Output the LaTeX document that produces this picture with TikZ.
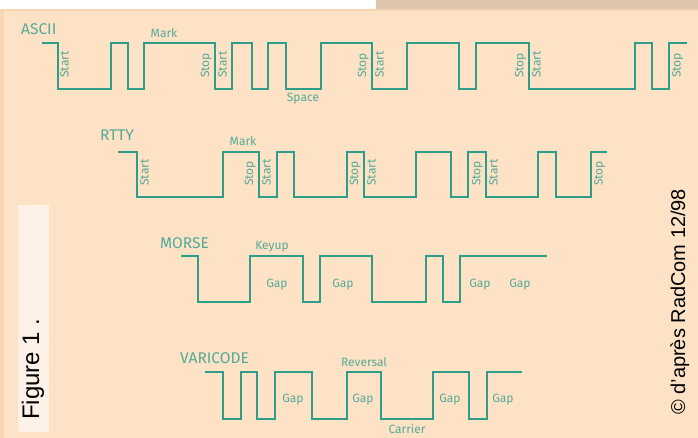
\documentclass[tikz,border=0pt]{standalone}
\usepackage{fontspec}
\setmainfont{Liberation Sans}
\newfontfamily\wavefont{Fira Sans}
\definecolor{peach}{HTML}{FDE2C5}
\definecolor{peachEdge}{HTML}{F9D6B2}
\definecolor{tanBand}{HTML}{DEC5AE}
\definecolor{figBox}{HTML}{FEF1E7}
\definecolor{waveLine}{HTML}{2E9E89}
\definecolor{waveText}{HTML}{55AA98}

\begin{document}
\begin{tikzpicture}[x=1pt, y=-1pt,
    % signal trace
    wave/.style={line width=1.8pt, waveLine, line join=miter},
    % titles of the codes
    title/.style={anchor=base west, inner sep=0pt, text=waveText,
        font=\wavefont\fontsize{15.5}{15.5}\selectfont},
    % small labels
    lbl/.style={anchor=base, inner sep=2pt, text=waveText,
        font=\wavefont\fontsize{12}{12}\selectfont},
    lblL/.style={lbl, rotate=90, anchor=south west},
    lblR/.style={lbl, rotate=90, anchor=north west}
]

    % ================== background ==================
    \fill[white] (0,0) rectangle (698,438);
    \fill[peach] (0,9) rectangle (698,438);
    \fill[tanBand] (376,0) rectangle (698,9);
    \fill[peachEdge] (0,9) rectangle (698,11);
    \fill[peachEdge] (0,9) rectangle (4,438);

    % ================== ASCII ==================
    \node[title] (ascii) at (21,35) {ASCII};
    \draw[wave] (42,43) -| (58,89) -| (111,43) -| (128,89) -| (144,43)
        -| (215,89) -| (232,43) -| (252,89) -| (268,43) -| (286,89)
        -| (321,43) -| (372,89) -| (407,43) -| (459,89) -| (476,43)
        -| (529,89) -| (635,43) -| (652,89) -| (669,43) -- (687,43);
    \node[lblR] (a_start1) at (58,80) {Start};
    \node[lblL] (a_stop1) at (214,80) {Stop};
    \node[lblR] (a_start2) at (216,80) {Start};
    \node[lblL] (a_stop2) at (371,80) {Stop};
    \node[lblR] (a_start3) at (373,80) {Start};
    \node[lblL] (a_stop3) at (528,80) {Stop};
    \node[lblR] (a_start4) at (530,80) {Start};
    \node[lblR] (a_stop4) at (670,80) {Stop};
    \node[lbl] (a_mark) at (164,38) {Mark};
    \node[lbl] (a_space) at (303,102) {Space};

    % ================== RTTY ==================
    \node[title] (rtty) at (100,141) {RTTY};
    \draw[wave] (118,152) -| (137,197) -| (223,152) -| (259,197) -| (277,152)
        -| (294,197) -| (347,152) -| (364,197) -| (416,152) -| (451,197)
        -| (468,152) -| (486,197) -| (538,152) -| (556,197) -| (591,152)
        -- (607,152);
    \node[lblR] (r_start1) at (138,188) {Start};
    \node[lblL] (r_stop1) at (258,188) {Stop};
    \node[lblR] (r_start2) at (260,188) {Start};
    \node[lblL] (r_stop2) at (363,188) {Stop};
    \node[lblR] (r_start3) at (365,188) {Start};
    \node[lblL] (r_stop3) at (485,188) {Stop};
    \node[lblR] (r_start4) at (487,188) {Start};
    \node[lblR] (r_stop4) at (592,188) {Stop};
    \node[lbl] (r_mark) at (243,146) {Mark};

    % ================== MORSE ==================
    \node[title] (morse) at (160,248) {MORSE};
    \draw[wave] (181,256) -| (198,302) -| (250,256) -| (303,302) -| (320,256)
        -| (372,302) -| (426,256) -| (443,302) -| (460,256) -- (547,256);
    \node[lbl] (m_keyup) at (272,250) {Keyup};
    \node[lbl] (m_gap1) at (277,287) {Gap};
    \node[lbl] (m_gap2) at (343,287) {Gap};
    \node[lbl] (m_gap3) at (480,287) {Gap};
    \node[lbl] (m_gap4) at (520,287) {Gap};

    % ================== VARICODE ==================
    \node[title] (varicode) at (180,363) {VARICODE};
    \draw[wave] (205,372) -| (223,419) -| (241,372) -| (257,419) -| (275,372)
        -| (312,419) -| (347,372) -| (381,419) -| (433,372) -| (469,419)
        -| (487,372) -- (522,372);
    \node[lbl] (v_reversal) at (364,366) {Reversal};
    \node[lbl] (v_gap1) at (293,402) {Gap};
    \node[lbl] (v_gap2) at (363,402) {Gap};
    \node[lbl] (v_gap3) at (450,402) {Gap};
    \node[lbl] (v_gap4) at (503,402) {Gap};
    \node[lbl] (v_carrier) at (407,433) {Carrier};

    % ================== side texts ==================
    \fill[figBox] (18,205) rectangle (49,432);
    \node[rotate=90, anchor=base west, inner sep=0pt,
        font=\fontsize{24}{24}\selectfont] (fig_label) at (39,420) {Figure 1 .};
    \node[rotate=90, anchor=base west, inner sep=0pt,
        font=\fontsize{20}{20}\selectfont] (credit) at (685,415) {© d'après RadCom 12/98};

\end{tikzpicture}
\end{document}
